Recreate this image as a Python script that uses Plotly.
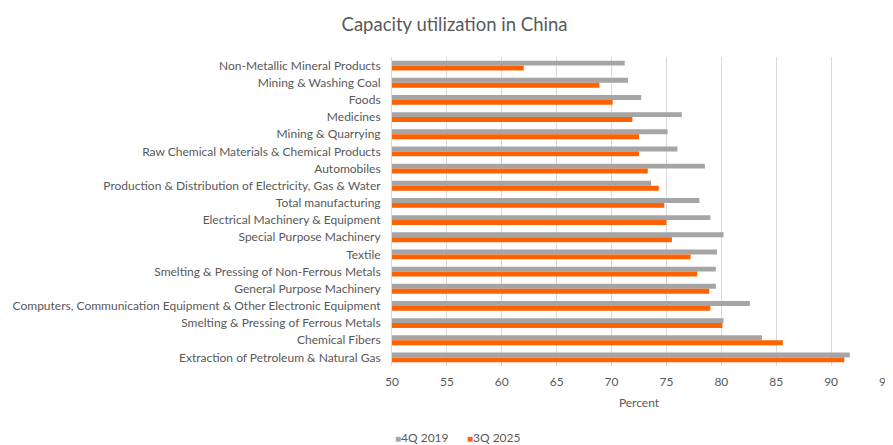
import plotly.graph_objects as go

categories = [
    "Non-Metallic Mineral Products",
    "Mining & Washing Coal",
    "Foods",
    "Medicines",
    "Mining & Quarrying",
    "Raw Chemical Materials & Chemical Products",
    "Automobiles",
    "Production & Distribution of Electricity, Gas & Water",
    "Total manufacturing",
    "Electrical Machinery & Equipment",
    "Special Purpose Machinery",
    "Textile",
    "Smelting & Pressing of Non-Ferrous Metals",
    "General Purpose Machinery",
    "Computers, Communication Equipment & Other Electronic Equipment",
    "Smelting & Pressing of Ferrous Metals",
    "Chemical Fibers",
    "Extraction of Petroleum & Natural Gas",
]
q4_2019 = [71.2, 71.5, 72.7, 76.4, 75.1, 76.0, 78.5, 73.6, 78.0, 79.0, 80.2, 79.6, 79.5, 79.5, 82.6, 80.2, 83.7, 91.7]
q3_2025 = [62.0, 68.9, 70.1, 71.9, 72.5, 72.5, 73.3, 74.3, 74.8, 75.0, 75.5, 77.2, 77.8, 78.9, 79.0, 80.1, 85.6, 91.2]
x_ticks = [50, 55, 60, 65, 70, 75, 80, 85, 90, 95]
series_names = ["4Q 2019", "3Q 2025"]
series_colors = ["#A5A5A5", "#FF6200"]

text_color = "#595959"
font_family = "Lato, 'Open Sans', sans-serif"

fig = go.Figure()
for name, vals, col in zip(series_names, [q4_2019, q3_2025], series_colors):
    fig.add_trace(go.Bar(y=categories, x=vals, name=name, orientation="h",
                         marker=dict(color=col, line=dict(width=0)), showlegend=False))

legend_text = "      ".join(
    f"<span style='color:{c};font-size:10px'>■</span>{n}" for n, c in zip(series_names, series_colors)
)
fig.add_annotation(text=legend_text, xref="paper", yref="paper", x=0.134, y=-0.233,
                   xanchor="center", yanchor="middle", showarrow=False,
                   font=dict(size=12, color=text_color, family=font_family))

fig.update_layout(
    width=893, height=445,
    paper_bgcolor="white", plot_bgcolor="white",
    font=dict(family=font_family, color=text_color, size=12),
    title=dict(text="Capacity utilization in China", x=0.5, xanchor="center",
               y=0.962, yanchor="middle", font=dict(size=18.5, color=text_color)),
    barmode="group", bargap=0.43, bargroupgap=0,
    margin=dict(l=384, r=15, t=49, b=87, autoexpand=False),
    showlegend=False,
    xaxis=dict(range=[50, 95], tickvals=x_ticks, showgrid=True, gridcolor="#D9D9D9",
               gridwidth=1, zeroline=False, showline=False, ticks="", automargin=False,
               ticklabelstandoff=7,
               tickfont=dict(size=12, color=text_color),
               title=dict(text="Percent", standoff=10, font=dict(size=12, color=text_color))),
    yaxis=dict(autorange="reversed", showline=True, linecolor="#D9D9D9", linewidth=1,
               ticks="", ticklen=0, showgrid=False, automargin=False,
               ticklabelstandoff=8,
               tickfont=dict(size=12, color=text_color)),
)

fig.write_html("out.html")
